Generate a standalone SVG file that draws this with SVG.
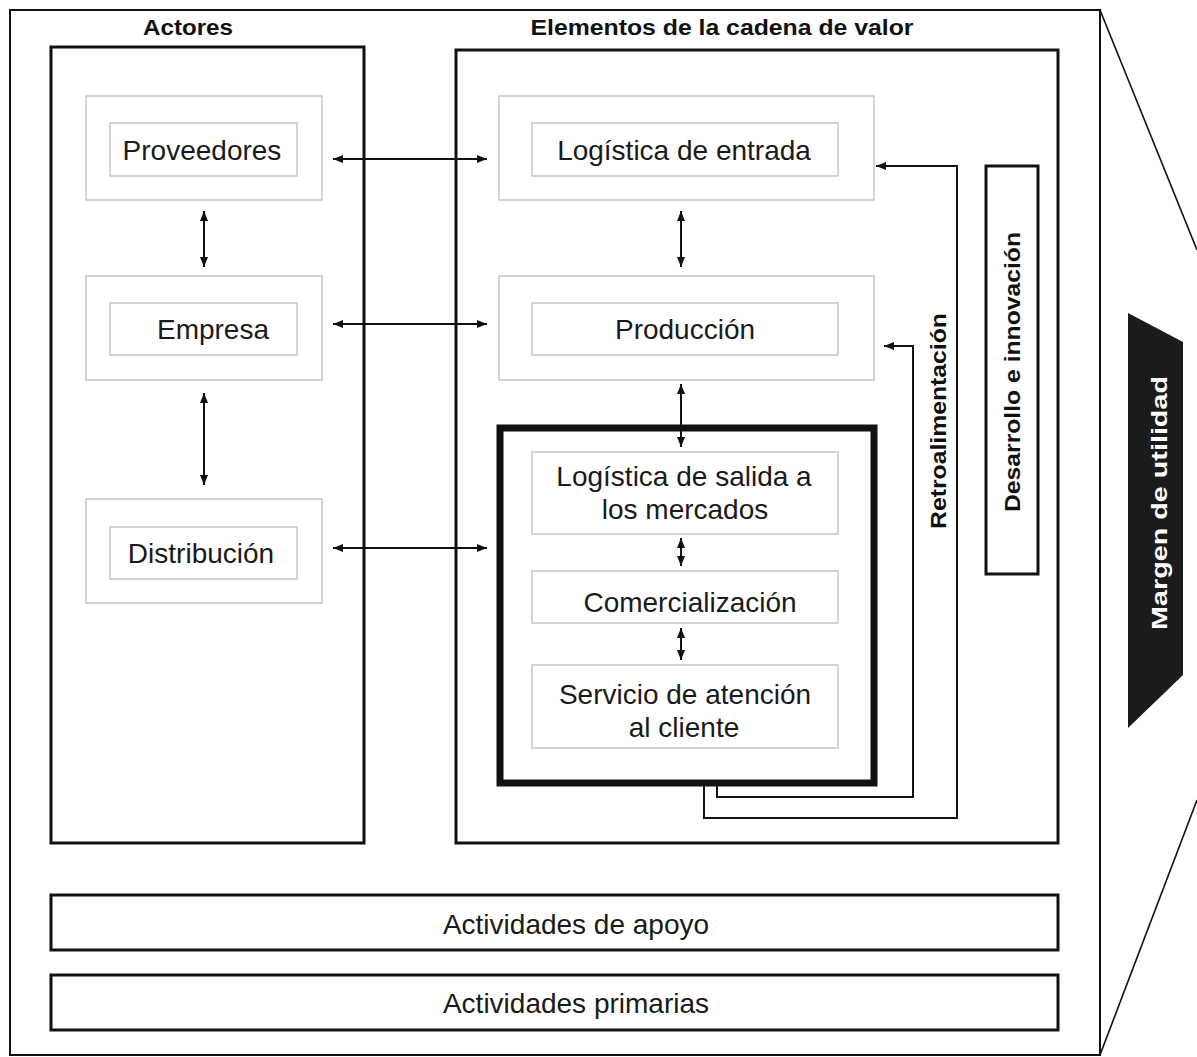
<svg xmlns="http://www.w3.org/2000/svg" width="1197" height="1057" viewBox="0 0 1197 1057">
  <style>
    .frame { fill: none; stroke: #111; stroke-width: 2; }
    .panel { fill: none; stroke: #111; stroke-width: 3; }
    .bar { fill: none; stroke: #111; stroke-width: 3; }
    .soft { fill: none; stroke: #c6c6c6; stroke-width: 1.5; }
    .link { fill: none; stroke: #111; stroke-width: 2; }
    .fb { fill: none; stroke: #111; stroke-width: 2; }
    .lbl { font-family: "Liberation Sans", Arial, sans-serif; font-size: 28px; fill: #1a1a1a; text-anchor: middle; }
    .ttl { font-family: "Liberation Sans", Arial, sans-serif; font-size: 22px; font-weight: bold; fill: #111; text-anchor: middle; }
  </style>
  <defs>
    <marker id="head" viewBox="0 0 10 8" refX="10" refY="4" markerWidth="10" markerHeight="8" markerUnits="userSpaceOnUse" orient="auto-start-reverse">
      <path d="M0,0 L10,4 L0,8 Z" fill="#111"/>
    </marker>
  </defs>

  <rect width="1197" height="1057" fill="#ffffff"/>

  <!-- outer frame with the prism side -->
  <g id="frame">
    <rect class="frame" x="10" y="10" width="1090" height="1045"/>
    <line x1="1100" y1="10" x2="1197" y2="250" stroke="#111" stroke-width="1.6"/>
    <line x1="1100" y1="1055" x2="1197" y2="800" stroke="#111" stroke-width="1.6"/>
  </g>

  <!-- actors column -->
  <g id="actores">
    <text class="ttl" x="188" y="35" textLength="90" lengthAdjust="spacingAndGlyphs">Actores</text>
    <rect class="panel" x="51" y="47" width="313" height="796"/>
  </g>

  <!-- value chain column -->
  <g id="cadena">
    <text class="ttl" x="722" y="35" textLength="383" lengthAdjust="spacingAndGlyphs">Elementos de la cadena de valor</text>
    <rect class="panel" x="456" y="50" width="602" height="793"/>
  </g>

  <g id="proveedores">
    <rect class="soft" x="86" y="96" width="236" height="104"/>
    <rect class="soft" x="110" y="123" width="187" height="53"/>
    <text class="lbl" x="202" y="160">Proveedores</text>
  </g>

  <g id="empresa">
    <rect class="soft" x="86" y="276" width="236" height="104"/>
    <rect class="soft" x="110" y="303" width="187" height="52"/>
    <text class="lbl" x="213" y="339">Empresa</text>
  </g>

  <g id="distribucion">
    <rect class="soft" x="86" y="499" width="236" height="104"/>
    <rect class="soft" x="110" y="527" width="187" height="52"/>
    <text class="lbl" x="201" y="563">Distribución</text>
  </g>

  <g id="logistica-entrada">
    <rect class="soft" x="499" y="96" width="375" height="104"/>
    <rect class="soft" x="532" y="123" width="306" height="53"/>
    <text class="lbl" x="684" y="160">Logística de entrada</text>
  </g>

  <g id="produccion">
    <rect class="soft" x="499" y="276" width="375" height="104"/>
    <rect class="soft" x="532" y="303" width="306" height="52"/>
    <text class="lbl" x="685" y="339">Producción</text>
  </g>

  <!-- market-facing block -->
  <g id="bloque-mercado">
    <rect x="500" y="428" width="374" height="355" fill="none" stroke="#111" stroke-width="7"/>
  </g>

  <g id="logistica-salida">
    <rect class="soft" x="532" y="452" width="306" height="82"/>
    <text class="lbl" x="684" y="486">Logística de salida a</text>
    <text class="lbl" x="685" y="519">los mercados</text>
  </g>

  <g id="comercializacion">
    <rect class="soft" x="532" y="571" width="306" height="52"/>
    <text class="lbl" x="690" y="612">Comercialización</text>
  </g>

  <g id="servicio">
    <rect class="soft" x="532" y="665" width="306" height="83"/>
    <text class="lbl" x="685" y="704">Servicio de atención</text>
    <text class="lbl" x="684" y="737">al cliente</text>
  </g>

  <g id="desarrollo">
    <rect x="986" y="166" width="52" height="408" fill="none" stroke="#111" stroke-width="3"/>
    <text class="ttl" transform="translate(1020,372) rotate(-90)" textLength="280" lengthAdjust="spacingAndGlyphs">Desarrollo e innovación</text>
  </g>

  <g id="margen">
    <polygon points="1128,313 1183,342 1183,675 1128,728" fill="#1b1b1b"/>
    <text class="ttl" transform="translate(1167,503) rotate(-90)" style="fill:#ffffff" textLength="254" lengthAdjust="spacingAndGlyphs">Margen de utilidad</text>
  </g>

  <g id="apoyo">
    <rect class="bar" x="51" y="895" width="1007" height="55"/>
    <text class="lbl" x="576" y="934">Actividades de apoyo</text>
  </g>

  <g id="primarias">
    <rect class="bar" x="51" y="975" width="1007" height="55"/>
    <text class="lbl" x="576" y="1013">Actividades primarias</text>
  </g>

  <text class="ttl" transform="translate(946,421) rotate(-90)" textLength="216" lengthAdjust="spacingAndGlyphs">Retroalimentación</text>

  <!-- connectors -->
  <g id="connectors">
    <line class="link" x1="333" y1="159" x2="487" y2="159" marker-start="url(#head)" marker-end="url(#head)"/>
    <line class="link" x1="333" y1="324" x2="487" y2="324" marker-start="url(#head)" marker-end="url(#head)"/>
    <line class="link" x1="333" y1="548" x2="487" y2="548" marker-start="url(#head)" marker-end="url(#head)"/>

    <line class="link" x1="204" y1="211" x2="204" y2="267" marker-start="url(#head)" marker-end="url(#head)"/>
    <line class="link" x1="204" y1="393" x2="204" y2="485" marker-start="url(#head)" marker-end="url(#head)"/>

    <line class="link" x1="681" y1="211" x2="681" y2="267" marker-start="url(#head)" marker-end="url(#head)"/>
    <line class="link" x1="681" y1="384" x2="681" y2="447" marker-start="url(#head)" marker-end="url(#head)"/>
    <line class="link" x1="681" y1="538" x2="681" y2="566" marker-start="url(#head)" marker-end="url(#head)"/>
    <line class="link" x1="681" y1="628" x2="681" y2="660" marker-start="url(#head)" marker-end="url(#head)"/>

    <!-- feedback loops -->
    <polyline class="fb" points="717,786 717,797 913,797 913,346 884,346" marker-end="url(#head)"/>
    <polyline class="fb" points="704,786 704,818 957,818 957,166 876,166" marker-end="url(#head)"/>
  </g>
</svg>
